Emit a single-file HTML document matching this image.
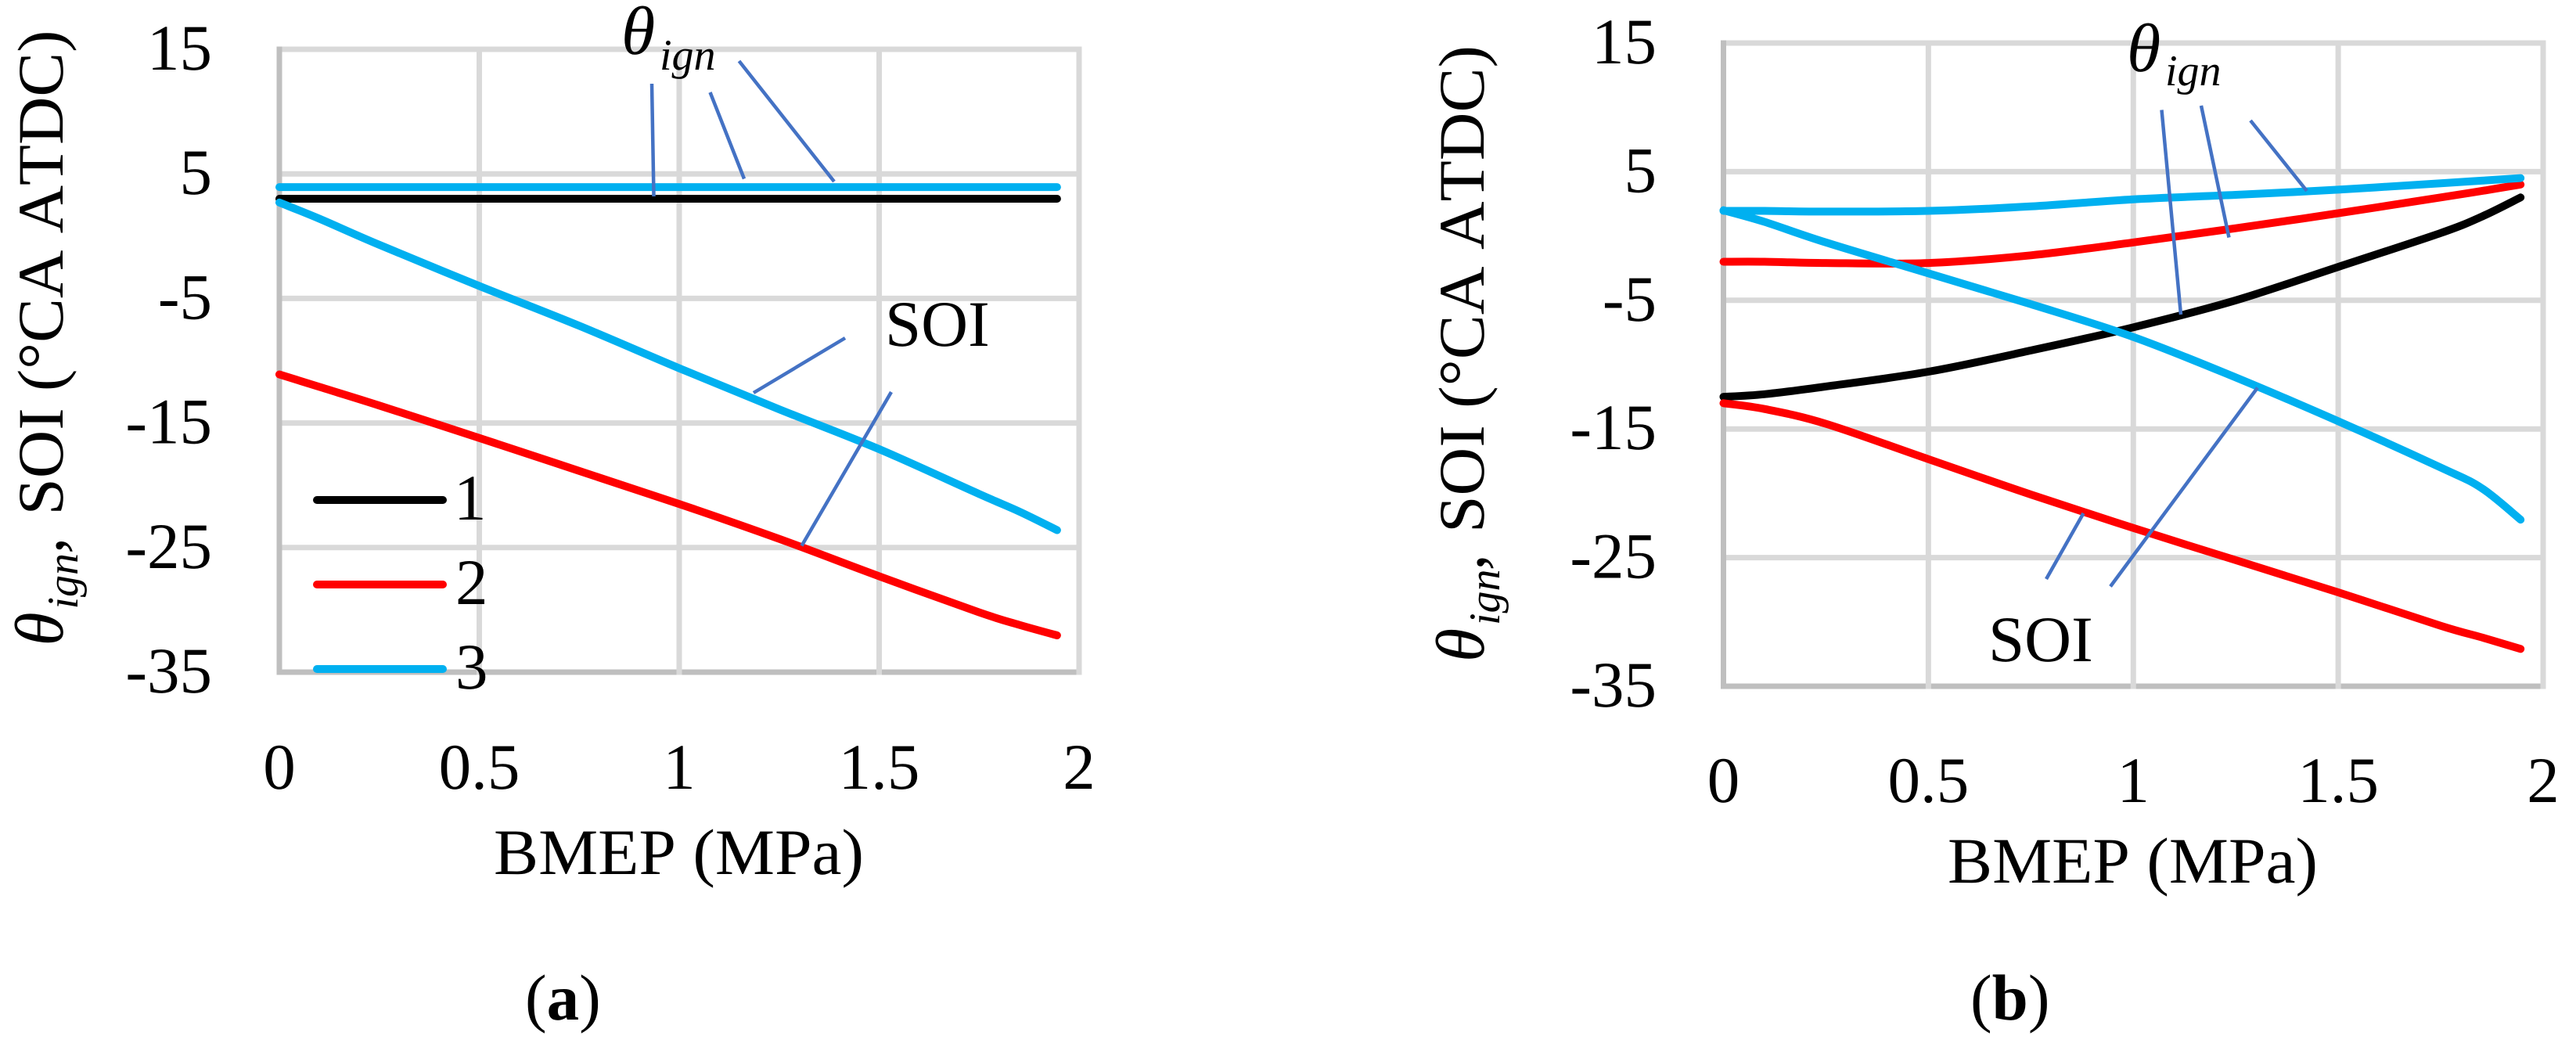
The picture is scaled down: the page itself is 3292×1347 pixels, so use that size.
<!DOCTYPE html>
<html lang="en">
<head>
<meta charset="utf-8">
<title>Ignition timing and SOI versus BMEP</title>
<style>
html,body{margin:0;padding:0;background:#fff;width:3292px;height:1347px;overflow:hidden}
svg{display:block;position:absolute;left:0;top:0}
text{font-family:"Liberation Serif",serif;fill:#000;font-size:83px;font-kerning:none;text-rendering:geometricPrecision}
.it{font-style:italic}
.theta{font-style:italic;font-size:88px}
.sub{font-style:italic;font-size:56px}
.lead{stroke:#4472c4;stroke-width:4.5;fill:none}
</style>
</head>
<body>
<svg id="fig" xmlns="http://www.w3.org/2000/svg" width="3292" height="1347" viewBox="0 0 3292 1347">
  <rect width="3292" height="1347" fill="#fff"/>
  <g id="panel-a"></g>
  <g id="panel-b"></g>

  <g>
    <line class="lead" x1="833" y1="107" x2="835.5" y2="251"/>
    <line class="lead" x1="907.5" y1="118" x2="951" y2="228.5"/>
    <line class="lead" x1="944.5" y1="78" x2="1066" y2="232"/>
    <line class="lead" x1="963" y1="502" x2="1080" y2="432"/>
    <line class="lead" x1="1024.5" y1="697.5" x2="1139" y2="501"/>
    <text class="theta" x="794" y="69">θ</text>
    <text class="sub" x="843" y="89">ign</text>
    <text x="1131" y="442">SOI</text>
  </g>

  <g>
    <line class="lead" x1="2762.5" y1="140.5" x2="2787" y2="402"/>
    <line class="lead" x1="2813" y1="135" x2="2848.5" y2="303.5"/>
    <line class="lead" x1="2876" y1="154" x2="2948" y2="244"/>
    <line class="lead" x1="2615" y1="740" x2="2662.5" y2="656"/>
    <line class="lead" x1="2697" y1="749.5" x2="2885" y2="495.5"/>
    <text class="theta" x="2718" y="91">θ</text>
    <text class="sub" x="2767" y="109">ign</text>
    <text x="2541" y="845">SOI</text>
  </g>

  <g>
    <line x1="405" y1="639" x2="566" y2="639" stroke="#000" stroke-width="10" stroke-linecap="round"/>
    <text x="580" y="664">1</text>
    <line x1="405" y1="747" x2="566" y2="747" stroke="#ff0000" stroke-width="10" stroke-linecap="round"/>
    <text x="582" y="772">2</text>
    <line x1="405" y1="855" x2="566" y2="855" stroke="#00b0f0" stroke-width="10" stroke-linecap="round"/>
    <text x="582" y="880">3</text>
  </g>

  <g>
    <text x="631" y="1117" textLength="473" lengthAdjust="spacingAndGlyphs">BMEP (MPa)</text>
    <g transform="translate(80,658.5) rotate(-90)">
      <text x="0" y="0" textLength="620" lengthAdjust="spacingAndGlyphs">SOI (°CA ATDC)</text>
      <text class="theta" x="-167" y="0">θ</text>
      <text class="sub" x="-120" y="19">ign</text>
      <text class="it" x="-49" y="0">,</text>
    </g>
    <text x="671" y="1303">(<tspan font-weight="bold">a</tspan>)</text>
  </g>

  <g>
    <text x="2489" y="1128" textLength="473" lengthAdjust="spacingAndGlyphs">BMEP (MPa)</text>
    <g transform="translate(1896,681) rotate(-90)">
      <text x="0" y="0" textLength="623" lengthAdjust="spacingAndGlyphs">SOI (°CA ATDC)</text>
      <text class="theta" x="-165" y="0">θ</text>
      <text class="sub" x="-118" y="20">ign</text>
      <text class="it" x="-48" y="0">,</text>
    </g>
    <text x="2518" y="1303">(<tspan font-weight="bold">b</tspan>)</text>
  </g>
</svg>

<script>
const xTicks = [0, 0.5, 1, 1.5, 2];
const yTicks = [15, 5, -5, -15, -25, -35];
const bmep = [0, 0.1, 0.25, 0.5, 0.75, 1, 1.25, 1.5, 1.75, 1.85, 1.945];

const aIgn1 = [3, 3, 3, 3, 3, 3, 3, 3, 3, 3, 3];
const aIgn3 = [3.94, 3.94, 3.94, 3.94, 3.94, 3.94, 3.94, 3.94, 3.94, 3.94, 3.94];
const aSoi2 = [-11.1, -12.1, -13.6, -16.2, -18.85, -21.5, -24.3, -27.3, -30.2, -31.2, -32.05];
const aSoi3 = [2.7, 1.4, -0.7, -4.0, -7.2, -10.6, -13.9, -17.1, -20.7, -22.1, -23.6];

const bIgn1 = [-12.5, -12.3, -11.7, -10.55, -8.9, -7.1, -5, -2.4, 0.23, 1.5, 3.0];
const bIgn2 = [-2, -2, -2.1, -2.1, -1.5, -0.5, 0.6, 1.77, 3.0, 3.5, 4.0];
const bIgn3 = [1.95, 1.95, 1.9, 1.95, 2.3, 2.85, 3.2, 3.6, 4.1, 4.3, 4.5];
const bSoi2 = [-13, -13.45, -14.6, -17.35, -20.1, -22.7, -25.2, -27.7, -30.3, -31.2, -32.1];
const bSoi3 = [2, 1.1, -0.5, -2.9, -5.3, -7.85, -11.0, -14.4, -18, -19.6, -22.05];

const NS = 'http://www.w3.org/2000/svg';
const BLACK = '#000000', RED = '#ff0000', CYAN = '#00b0f0';

function makeEl(tag, parent, attrs) {
  const el = document.createElementNS(NS, tag);
  for (const k in attrs) el.setAttribute(k, attrs[k]);
  parent.appendChild(el);
  return el;
}

function smoothPath(pts) {
  let d = 'M' + pts[0][0].toFixed(1) + ' ' + pts[0][1].toFixed(1);
  for (let i = 0; i < pts.length - 1; i++) {
    const p0 = pts[Math.max(i - 1, 0)], p1 = pts[i], p2 = pts[i + 1], p3 = pts[Math.min(i + 2, pts.length - 1)];
    const c1x = p1[0] + (p2[0] - p0[0]) / 6, c1y = p1[1] + (p2[1] - p0[1]) / 6;
    const c2x = p2[0] - (p3[0] - p1[0]) / 6, c2y = p2[1] - (p3[1] - p1[1]) / 6;
    d += 'C' + c1x.toFixed(1) + ' ' + c1y.toFixed(1) + ' ' + c2x.toFixed(1) + ' ' + c2y.toFixed(1) + ' ' + p2[0].toFixed(1) + ' ' + p2[1].toFixed(1);
  }
  return d;
}

function drawPanel(parent, box, seriesList) {
  const xScale = v => box.left + (v / 2) * (box.right - box.left);
  const yScale = v => box.top + ((15 - v) / 50) * (box.bottom - box.top);

  yTicks.forEach(t => {
    const g = makeEl('line', parent, {x1: box.left, x2: box.right, y1: yScale(t), y2: yScale(t), stroke: t === -35 ? '#bfbfbf' : '#d9d9d9', 'stroke-width': 7});
    
    
  });
  xTicks.forEach(t => {
    const g = makeEl('line', parent, {x1: xScale(t), x2: xScale(t), y1: yScale(15) - 3.5, y2: yScale(-35) + 3.5, stroke: t === 0 ? '#bfbfbf' : '#d9d9d9', 'stroke-width': 7});
    
    
  });

  yTicks.forEach(t => {
    const lab = makeEl('text', parent, {x: box.yLabelX, y: yScale(t) + 26, 'text-anchor': 'end'});
    lab.textContent = String(t);
    
    
  });
  xTicks.forEach(t => {
    const lab = makeEl('text', parent, {x: xScale(t), y: box.xLabelY, 'text-anchor': 'middle'});
    lab.textContent = String(t);
    
    
  });

  seriesList.forEach(s => {
    const pts = bmep.map((x, i) => [xScale(x), yScale(s.values[i])]);
    const line = makeEl('path', parent, {d: smoothPath(pts), fill: 'none', stroke: s.color, 'stroke-width': 10, 'stroke-linecap': 'round', 'stroke-linejoin': 'round'});
    
    
  });
}

drawPanel(document.getElementById('panel-a'),
  {left: 357, right: 1379, top: 63, bottom: 859, yLabelX: 271, xLabelY: 1008},
  [
    {name: 'series-1-ignition-a', color: BLACK, values: aIgn1},
    {name: 'series-2-soi-a', color: RED, values: aSoi2},
    {name: 'series-3-ignition-a', color: CYAN, values: aIgn3},
    {name: 'series-3-soi-a', color: CYAN, values: aSoi3}
  ]);

drawPanel(document.getElementById('panel-b'),
  {left: 2202.5, right: 3250, top: 55, bottom: 877, yLabelX: 2117, xLabelY: 1025},
  [
    {name: 'series-1-ignition-b', color: BLACK, values: bIgn1},
    {name: 'series-2-ignition-b', color: RED, values: bIgn2},
    {name: 'series-2-soi-b', color: RED, values: bSoi2},
    {name: 'series-3-ignition-b', color: CYAN, values: bIgn3},
    {name: 'series-3-soi-b', color: CYAN, values: bSoi3}
  ]);
</script>
</body>
</html>
